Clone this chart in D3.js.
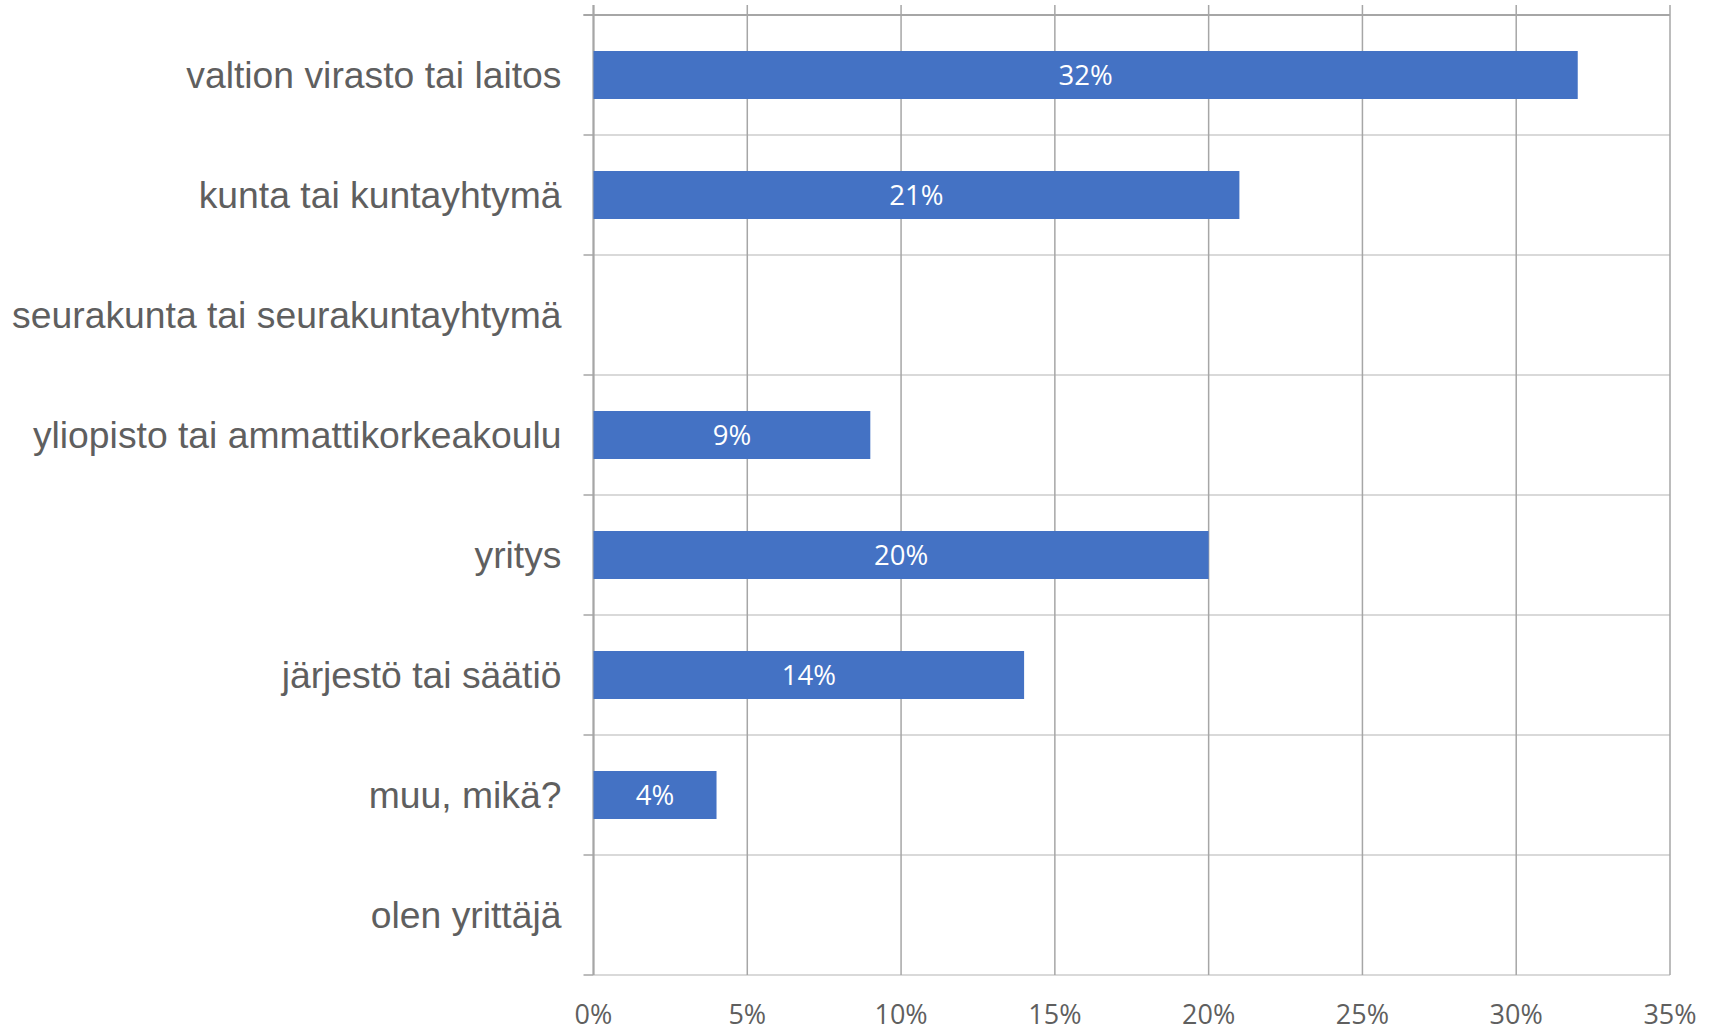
<!DOCTYPE html>
<html>
<head>
<meta charset="utf-8">
<title>Työnantajasektori</title>
<style>
  body { margin: 0; background: #fff; }
  .cat { font-family: "Liberation Sans", Arial, sans-serif; font-size: 37.3px; fill: #5f5f5f; }
  .tick-lbl { font-family: "Open Sans", sans-serif; font-size: 27px; fill: #5f5f5f; }
  .bar-lbl { font-family: "Open Sans", sans-serif; font-size: 27.5px; fill: #fff; }
</style>
</head>
<body>
<script src="https://cdn.jsdelivr.net/npm/d3@7"></script>
<script>
// categories top to bottom and share of respondents (%)
var categories = [
  "valtion virasto tai laitos",
  "kunta tai kuntayhtymä",
  "seurakunta tai seurakuntayhtymä",
  "yliopisto tai ammattikorkeakoulu",
  "yritys",
  "järjestö tai säätiö",
  "muu, mikä?",
  "olen yrittäjä"
];
var values = [32, 21, 0, 9, 20, 14, 4, 0];
var ticks = [0, 5, 10, 15, 20, 25, 30, 35];

var width = 1717, height = 1032;
var plotLeft = 593.5, plotRight = 1670, plotTop = 15, plotBottom = 975;

var svg = d3.select("body").append("svg").attr("width", width).attr("height", height);

var x = d3.scaleLinear().domain([0, 35]).range([plotLeft, plotRight]);
var y = d3.scaleBand().domain(categories).range([plotTop, plotBottom]).paddingInner(0.6).paddingOuter(0.3);
var step = y.step();

var rows = categories.map(function(c, i) { return {cat: c, val: values[i]}; });

// horizontal gridlines at category boundaries
var bounds = d3.range(categories.length + 1).map(function(i) { return plotTop + i * step; });
svg.selectAll("line.hgrid").data(bounds).enter().append("line")
  .attr("class", "hgrid")
  .attr("x1", plotLeft).attr("x2", plotRight)
  .attr("y1", function(d) { return d; }).attr("y2", function(d) { return d; })
  .attr("stroke", "#d9d9d9").attr("stroke-width", 2);

// vertical gridlines (with outside ticks at the top)
svg.selectAll("line.vgrid").data(ticks).enter().append("line")
  .attr("class", "vgrid")
  .attr("x1", function(d) { return x(d); }).attr("x2", function(d) { return x(d); })
  .attr("y1", plotTop - 10).attr("y2", plotBottom)
  .attr("stroke", "#a6a6a6").attr("stroke-width", 1.5);

// value axis line at the top
svg.append("line").attr("x1", plotLeft - 10).attr("x2", plotRight)
  .attr("y1", plotTop).attr("y2", plotTop)
  .attr("stroke", "#a6a6a6").attr("stroke-width", 2);

// category axis line + ticks
svg.append("line").attr("x1", plotLeft).attr("x2", plotLeft)
  .attr("y1", plotTop - 10).attr("y2", plotBottom)
  .attr("stroke", "#a6a6a6").attr("stroke-width", 2);
svg.selectAll("line.ctick").data(bounds).enter().append("line")
  .attr("class", "ctick")
  .attr("x1", plotLeft - 10).attr("x2", plotLeft)
  .attr("y1", function(d) { return d; }).attr("y2", function(d) { return d; })
  .attr("stroke", "#a6a6a6").attr("stroke-width", 1.5);

// bars
svg.selectAll("rect.bar").data(rows).enter().append("rect")
  .attr("class", "bar")
  .attr("x", x(0))
  .attr("y", function(d) { return y(d.cat); })
  .attr("width", function(d) { return x(d.val) - x(0); })
  .attr("height", y.bandwidth())
  .attr("fill", "#4472c4");

// bar labels (zero values have none)
svg.selectAll("text.bar-lbl").data(rows.filter(function(d) { return d.val > 0; })).enter()
  .append("text")
  .attr("class", "bar-lbl")
  .attr("text-anchor", "middle")
  .attr("x", function(d) { return (x(0) + x(d.val)) / 2; })
  .attr("y", function(d) { return y(d.cat) + y.bandwidth() / 2; })
  .attr("dy", "0.38em")
  .text(function(d) { return d.val + "%"; });

// category labels
svg.selectAll("text.cat").data(categories).enter().append("text")
  .attr("class", "cat")
  .attr("text-anchor", "end")
  .attr("x", plotLeft - 32)
  .attr("y", function(d) { return y(d) + y.bandwidth() / 2; })
  .attr("dy", "0.36em")
  .text(function(d) { return d; });

// tick labels at the bottom
svg.selectAll("text.tick-lbl").data(ticks).enter().append("text")
  .attr("class", "tick-lbl")
  .attr("text-anchor", "middle")
  .attr("x", function(d) { return x(d); })
  .attr("y", 1024)
  .text(function(d) { return d + "%"; });
</script>
</body>
</html>
